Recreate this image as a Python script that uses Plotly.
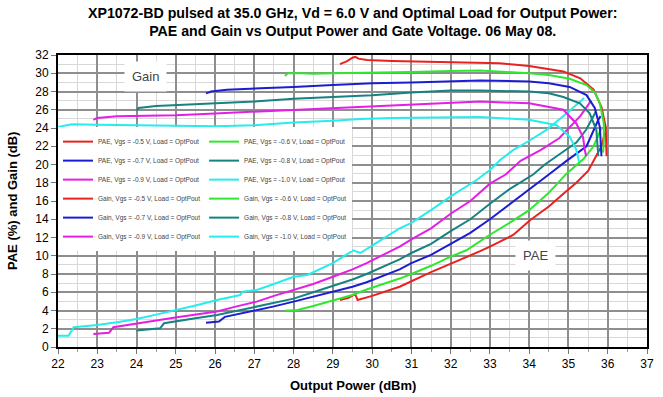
import plotly.graph_objects as go

# ---------------- data ----------------
vgs_labels = ["-0.5", "-0.6", "-0.7", "-0.8", "-0.9", "-1.0"]
colors = ["#e8231f", "#2ee82e", "#1c1cd0", "#178282", "#e51ee5", "#26ecec"]

# PAE (%) curves
pae_m05_x = [29.18, 29.4, 29.57, 29.63, 30.0, 30.7, 31.5, 32.0, 32.4, 32.75, 33.0, 33.6, 34.02, 34.5, 34.87, 35.2, 35.5, 35.66, 35.84, 35.93]
pae_m05_y = [5.15, 5.4, 5.8, 5.15, 5.6, 6.6, 8.2, 9.1, 9.8, 10.5, 11.0, 12.3, 13.9, 15.4, 16.8, 18.0, 19.3, 20.5, 22.0, 23.5]
pae_m06_x = [27.78, 28.1, 28.5, 29.0, 29.5, 29.86, 30.3, 30.7, 31.0, 31.5, 32.0, 32.4, 33.0, 33.5, 34.0, 34.5, 34.95, 35.38, 35.64, 35.84]
pae_m06_y = [3.98, 4.05, 4.5, 5.1, 5.7, 6.3, 6.9, 7.5, 8.0, 8.9, 9.9, 10.6, 12.3, 13.6, 15.0, 16.9, 19.0, 20.6, 22.0, 24.0]
pae_m07_x = [25.77, 26.1, 26.25, 26.6, 27.06, 27.5, 28.0, 28.5, 29.0, 29.5, 29.86, 30.3, 30.7, 31.0, 31.5, 32.0, 32.5, 33.0, 33.5, 34.0, 34.5, 34.95, 35.46, 35.76, 35.82]
pae_m07_y = [2.67, 2.8, 3.3, 3.6, 4.0, 4.45, 4.97, 5.5, 6.0, 6.6, 7.1, 7.8, 8.5, 9.2, 10.1, 11.3, 12.5, 14.0, 15.6, 17.3, 18.9, 20.4, 22.0, 24.9, 25.3]
pae_m08_x = [24.0, 24.6, 24.7, 25.03, 25.5, 26.05, 26.5, 27.06, 27.5, 28.0, 28.5, 29.0, 29.5, 29.86, 30.3, 30.7, 31.0, 31.5, 32.0, 32.5, 33.0, 33.5, 34.1, 34.4, 34.8, 35.2, 35.45, 35.64, 35.7]
pae_m08_y = [1.8, 2.05, 2.6, 2.8, 3.15, 3.5, 3.9, 4.4, 4.8, 5.3, 6.0, 6.7, 7.4, 8.0, 8.8, 9.6, 10.3, 11.3, 12.7, 14.0, 15.7, 17.3, 18.9, 20.0, 21.2, 22.4, 23.8, 25.2, 25.8]
pae_m09_x = [22.9, 23.3, 23.41, 24.0, 24.5, 25.03, 25.5, 26.05, 26.5, 27.06, 27.5, 28.0, 28.5, 29.0, 29.5, 29.86, 30.3, 30.7, 31.0, 31.5, 32.0, 32.5, 33.0, 33.4, 33.78, 34.3, 34.77, 35.3, 35.58]
pae_m09_y = [1.42, 1.57, 2.16, 2.6, 2.9, 3.25, 3.55, 3.9, 4.4, 4.97, 5.6, 6.25, 6.9, 7.7, 8.5, 9.2, 10.1, 11.0, 11.8, 13.0, 14.6, 16.0, 17.9, 18.9, 20.4, 21.6, 22.9, 25.3, 27.0]
pae_m10_x = [22.0, 22.27, 22.4, 23.0, 23.5, 24.0, 24.5, 25.03, 25.5, 26.05, 26.64, 26.7, 27.06, 27.5, 28.0, 28.35, 29.0, 29.52, 29.7, 30.03, 30.7, 31.0, 31.5, 32.0, 32.66, 33.0, 33.26, 33.6, 34.0, 34.44, 34.95, 35.4]
pae_m10_y = [1.24, 1.24, 2.16, 2.4, 2.7, 3.07, 3.55, 4.05, 4.55, 5.15, 5.7, 6.06, 6.25, 6.9, 7.7, 7.9, 9.2, 10.6, 10.3, 11.2, 13.0, 13.6, 15.0, 16.5, 18.3, 19.4, 20.5, 21.6, 22.6, 23.8, 25.6, 27.3]

# Gain (dB) curves
gain_m05_x = [29.18, 29.35, 29.5, 29.57, 29.65, 29.87, 30.5, 31.5, 32.5, 33.25, 34.0, 34.5, 34.87, 35.3, 35.64, 35.84, 35.95, 35.97]
gain_m05_y = [31.0, 31.3, 31.7, 31.8, 31.6, 31.45, 31.35, 31.25, 31.15, 31.1, 30.8, 30.5, 30.2, 29.45, 28.2, 26.3, 24.1, 20.9]
gain_m06_x = [27.78, 27.85, 28.2, 28.5, 29.0, 30.0, 31.0, 32.0, 32.75, 34.0, 34.5, 35.03, 35.3, 35.46, 35.67, 35.8, 35.9, 35.9, 35.88]
gain_m06_y = [29.7, 30.0, 30.0, 29.95, 30.0, 30.05, 30.15, 30.25, 30.3, 30.0, 29.8, 29.4, 29.0, 28.7, 27.9, 26.7, 24.5, 22.5, 21.3]
gain_m07_x = [25.77, 25.9, 26.3, 27.0, 28.0, 29.0, 30.0, 31.0, 32.0, 32.75, 34.0, 34.5, 35.03, 35.46, 35.67, 35.8, 35.84]
gain_m07_y = [27.8, 28.0, 28.2, 28.3, 28.5, 28.7, 28.9, 29.0, 29.15, 29.2, 29.1, 28.9, 28.5, 27.6, 26.2, 24.1, 20.9]
gain_m08_x = [24.0, 24.05, 24.5, 25.0, 26.0, 27.0, 28.0, 29.0, 29.5, 30.0, 31.0, 32.0, 32.75, 34.0, 34.5, 34.87, 35.29, 35.54, 35.71, 35.76]
gain_m08_y = [25.9, 26.2, 26.4, 26.5, 26.7, 26.9, 27.2, 27.4, 27.5, 27.6, 27.9, 28.1, 28.1, 28.0, 27.8, 27.4, 26.7, 25.6, 23.8, 20.9]
gain_m09_x = [22.9, 23.0, 23.5, 24.0, 25.0, 26.0, 27.0, 28.0, 29.0, 30.0, 31.0, 32.0, 32.75, 34.0, 34.87, 35.2, 35.37, 35.42, 35.45]
gain_m09_y = [24.9, 25.1, 25.3, 25.35, 25.4, 25.6, 25.8, 26.0, 26.2, 26.4, 26.6, 26.8, 26.9, 26.7, 26.0, 24.5, 23.0, 21.5, 20.9]
gain_m10_x = [22.0, 22.2, 22.35, 23.0, 24.0, 25.0, 26.0, 27.0, 28.0, 29.0, 29.7, 30.5, 32.0, 32.75, 34.0, 34.7, 35.03, 35.2, 35.27]
gain_m10_y = [24.1, 24.3, 24.4, 24.35, 24.3, 24.3, 24.2, 24.3, 24.6, 24.8, 25.0, 25.1, 25.2, 25.2, 24.9, 24.3, 23.05, 21.6, 20.3]

x_ticks = list(range(22, 38))
y_ticks = list(range(0, 33, 2))

pae_x = [pae_m05_x, pae_m06_x, pae_m07_x, pae_m08_x, pae_m09_x, pae_m10_x]
pae_y = [pae_m05_y, pae_m06_y, pae_m07_y, pae_m08_y, pae_m09_y, pae_m10_y]
gain_x = [gain_m05_x, gain_m06_x, gain_m07_x, gain_m08_x, gain_m09_x, gain_m10_x]
gain_y = [gain_m05_y, gain_m06_y, gain_m07_y, gain_m08_y, gain_m09_y, gain_m10_y]

FONT = "Liberation Sans, Arial, sans-serif"

fig = go.Figure()
for kind, xs, ys in (("PAE", pae_x, pae_y), ("Gain", gain_x, gain_y)):
    for i, v in enumerate(vgs_labels):
        fig.add_trace(go.Scatter(
            x=xs[i], y=ys[i], mode="lines",
            line=dict(color=colors[i], width=2),
            name=f"{kind}, Vgs = {v} V, Load = OptPout",
            legend="legend" if i % 2 == 0 else "legend2",
        ))

legend_common = dict(
    bgcolor="white", borderwidth=0, orientation="v",
    font=dict(family=FONT, size=6.5, color="#444"),
    xanchor="left", yanchor="top", y=0.753, itemwidth=30,
)

PLOT_TOP, PLOT_BOTTOM = 55, 347
PLOT_H = PLOT_BOTTOM - PLOT_TOP

fig.update_layout(
    width=663, height=397,
    margin=dict(l=58, r=16, t=PLOT_TOP, b=397 - PLOT_BOTTOM, autoexpand=False),
    paper_bgcolor="white", plot_bgcolor="white",
    font=dict(family=FONT, color="black"),
    showlegend=True,
    legend=dict(x=0.0, **legend_common),
    legend2=dict(x=0.248, **legend_common),
    xaxis=dict(
        range=[22, 37], tickvals=x_ticks, ticktext=[str(t) for t in x_ticks],
        showgrid=True, gridcolor="#8e8e8e", gridwidth=2,
        minor=dict(dtick=0.5, showgrid=True, gridcolor="#d8d8d8", gridwidth=1,
                   ticks="outside", ticklen=3, tickcolor="#999"),
        ticks="outside", ticklen=5, tickcolor="#777",
        showline=True, linecolor="black", linewidth=2, mirror=True,
        zeroline=False, automargin=False,
        tickfont=dict(family=FONT, size=12, color="black"),
    ),
    yaxis=dict(
        range=[0, 32], tickvals=y_ticks, ticktext=[str(t) for t in y_ticks],
        showgrid=True, gridcolor="#8e8e8e", gridwidth=2,
        minor=dict(dtick=1, showgrid=True, gridcolor="#d8d8d8", gridwidth=1),
        ticks="outside", ticklen=5, tickcolor="#777",
        showline=True, linecolor="black", linewidth=2, mirror=True,
        zeroline=False, automargin=False,
        tickfont=dict(family=FONT, size=12, color="black"),
    ),
    annotations=[
        # chart title
        dict(x=0.5, y=(PLOT_BOTTOM - 22) / PLOT_H, xref="paper", yref="paper",
             xanchor="center", yanchor="middle", showarrow=False,
             text="<b>XP1072-BD pulsed at 35.0 GHz, Vd = 6.0 V and Optimal Load for Output Power:<br>"
                  "PAE and Gain vs Output Power and Gate Voltage. 06 May 08.</b>",
             font=dict(family=FONT, size=14.2, color="black")),
        # axis titles
        dict(x=0.5, y=(PLOT_BOTTOM - 385) / PLOT_H, xref="paper", yref="paper",
             xanchor="center", yanchor="middle", showarrow=False,
             text="<b>Output Power (dBm)</b>", font=dict(family=FONT, size=13, color="black")),
        dict(x=(12 - 58) / 589, y=0.5, xref="paper", yref="paper",
             xanchor="center", yanchor="middle", showarrow=False, textangle=-90,
             text="<b>PAE (%) and Gain (dB)</b>", font=dict(family=FONT, size=13, color="black")),
        # in-plot labels
        dict(x=24.22, y=29.6, xref="x", yref="y", text="Gain", showarrow=False,
             font=dict(family=FONT, size=13, color="#444"), bgcolor="white", borderpad=7),
        dict(x=34.15, y=10.0, xref="x", yref="y", text="PAE", showarrow=False,
             font=dict(family=FONT, size=13, color="#444"), bgcolor="white", borderpad=7),
    ],
)

fig.write_html("out.html")
